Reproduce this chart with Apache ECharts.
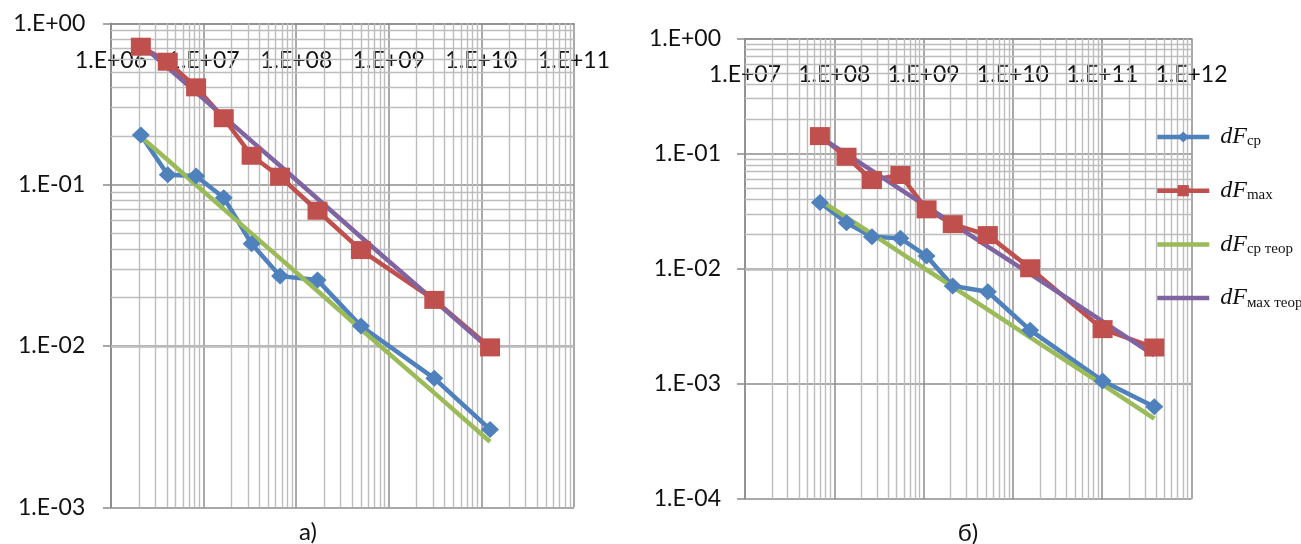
<!DOCTYPE html>
<html><head><meta charset="utf-8">
<script src="https://cdn.jsdelivr.net/npm/echarts@6/dist/echarts.min.js"></script>
<style>html,body{margin:0;padding:0;background:#fff}#c{width:1301px;height:544px}</style>
</head><body><div id="c"></div>
<script>
// ---- data ----
const seriesNames = ['dFср', 'dFmax', 'dFср теор', 'dFмах теор'];
// chart а)
const xA = [2.1e6, 4.1e6, 8.3e6, 1.65e7, 3.3e7, 6.7e7, 1.7e8, 5.0e8, 3.1e9, 1.24e10];
const cpA = [0.203, 0.115, 0.113, 0.083, 0.043, 0.0271, 0.0256, 0.0133, 0.0063, 0.00304];
const maxA = [0.716, 0.578, 0.401, 0.258, 0.151, 0.112, 0.0689, 0.0393, 0.0193, 0.0098];
const cpTeorA = [0.198, 0.142, 0.0995, 0.0705, 0.0497, 0.0349, 0.0219, 0.0127, 0.00512, 0.00255];
const maxTeorA = [0.741, 0.532, 0.373, 0.264, 0.186, 0.131, 0.0817, 0.0474, 0.0191, 0.00953];
// chart б)
const xB = [6.9e7, 1.37e8, 2.64e8, 5.5e8, 1.08e9, 2.12e9, 5.24e9, 1.56e10, 1.01e11, 3.83e11];
const cpB = [0.0377, 0.0251, 0.019, 0.0184, 0.0129, 0.00708, 0.00631, 0.00293, 0.00106, 0.000632];
const maxB = [0.142, 0.094, 0.059, 0.0652, 0.0328, 0.0244, 0.0196, 0.0101, 0.00299, 0.00207];
const cpTeorB = [0.0395, 0.0279, 0.0201, 0.0138, 0.0098, 0.00697, 0.00441, 0.00254, 0.000985, 0.0005];
const maxTeorB = [0.140, 0.0991, 0.0711, 0.0490, 0.0348, 0.0247, 0.0156, 0.00902, 0.00349, 0.00177];
// axis ranges
const xRangeA = [1e6, 1e11], yRangeA = [1e-3, 1];
const xRangeB = [1e7, 1e12], yRangeB = [1e-4, 1];
const captions = ['а)', 'б)'];

// ---- helpers ----
const colors = ['#4F81BD', '#C0504D', '#9BBB59', '#8064A2'];
const labelColor = '#111';
const majorColor = '#8c8c8c';
const minorColor = '#bdbdbd';

function expFmt(v) {
  const e = Math.round(Math.log10(v));
  const a = Math.abs(e);
  return '1.E' + (e < 0 ? '-' : '+') + (a < 10 ? '0' : '') + a;
}
function minorTicks(range) {
  const out = [];
  const e0 = Math.round(Math.log10(range[0])), e1 = Math.round(Math.log10(range[1]));
  for (let e = e0; e < e1; e++) for (let k = 2; k <= 9; k++) out.push(Number((k + 'e' + e)));
  return out;
}
function pairs(xs, ys) { return xs.map((x, i) => [x, ys[i]]); }

function mkSeries(g, xs, cp, mx, cpT, mxT, xr, yr) {
  const base = { type: 'line', xAxisIndex: g, yAxisIndex: g, z: 3, animation: false };
  return [
    Object.assign({}, base, { name: seriesNames[0], data: pairs(xs, cp), symbol: 'diamond', symbolSize: [18, 17],
      itemStyle: { color: colors[0] }, lineStyle: { color: colors[0], width: 4.5 } }),
    Object.assign({}, base, { name: seriesNames[1], data: pairs(xs, mx), symbol: 'rect', symbolSize: [20, 18],
      itemStyle: { color: colors[1] }, lineStyle: { color: colors[1], width: 4.5 } }),
    Object.assign({}, base, { name: seriesNames[2], data: pairs(xs, cpT), symbol: 'none',
      itemStyle: { color: colors[2] }, lineStyle: { color: colors[2], width: 4.5 } }),
    Object.assign({}, base, { name: seriesNames[3], data: pairs(xs, mxT), symbol: 'none',
      itemStyle: { color: colors[3] }, lineStyle: { color: colors[3], width: 4.5 } }),
    { type: 'line', name: 'grid' + g, xAxisIndex: g, yAxisIndex: g, data: [], silent: true, animation: false,
      markLine: { silent: true, z: 1, animation: false, symbol: ['none', 'none'], label: { show: false },
        emphasis: { disabled: true },
        lineStyle: { color: minorColor, type: 'solid', width: 1.4 },
        data: minorTicks(xr).map(v => ({ xAxis: v })).concat(minorTicks(yr).map(v => ({ yAxis: v }))) } }
  ];
}
function mkX(g, r, margin) {
  return { type: 'log', gridIndex: g, min: r[0], max: r[1], logBase: 10, position: 'top',
    axisLine: { show: true, lineStyle: { color: majorColor, width: 1.5 } }, axisTick: { show: false },
    axisLabel: { inside: true, margin: margin, verticalAlign: 'middle', formatter: expFmt, showMinLabel: true, showMaxLabel: true,
      fontFamily: 'Lato', fontSize: 23, color: labelColor },
    splitLine: { show: true, lineStyle: { color: majorColor, width: 1.5 } } };
}
function mkY(g, r, margin) {
  return { type: 'log', gridIndex: g, min: r[0], max: r[1], logBase: 10, position: 'left',
    axisLine: { show: true, lineStyle: { color: majorColor, width: 1.5 } },
    axisTick: { show: true, length: 8, lineStyle: { color: majorColor, width: 1.5 } },
    axisLabel: { margin: margin, formatter: expFmt, showMinLabel: true, showMaxLabel: true,
      fontFamily: 'Lato', fontSize: 23, color: labelColor },
    splitLine: { show: true, lineStyle: { color: majorColor, width: 1.5 } } };
}

const option = {
  animation: false,
  backgroundColor: '#fff',
  grid: [
    { left: 111, top: 23.3, width: 463, height: 484 },
    { left: 745, top: 38.5, width: 446.5, height: 460.5 }
  ],
  xAxis: [mkX(0, xRangeA, 37.7), mkX(1, xRangeB, 36.5)],
  yAxis: [mkY(0, yRangeA, 25.7), mkY(1, yRangeB, 24)],
  legend: {
    data: [
      { name: seriesNames[0] },
      { name: seriesNames[1] },
      { name: seriesNames[2], itemStyle: { opacity: 0 } },
      { name: seriesNames[3], itemStyle: { opacity: 0 } }
    ],
    orient: 'vertical', left: 1155, top: 125, padding: 0,
    itemWidth: 52, itemHeight: 14, itemGap: 29.7, selectedMode: false,
    lineStyle: { width: 4.5 },
    formatter: n => '{i|dF}{s|' + n.slice(2) + '}',
    textStyle: { color: '#111', rich: {
      i: { fontFamily: 'Liberation Serif', fontStyle: 'italic', fontSize: 24, lineHeight: 24, padding: [0, 0, 0, 6], color: '#111' },
      s: { fontFamily: 'Liberation Serif', fontSize: 15, lineHeight: 24, verticalAlign: 'bottom', color: '#111' }
    } }
  },
  graphic: [
    { type: 'text', x: 308, y: 532, style: { text: captions[0], align: 'center', verticalAlign: 'middle', font: '24px Lato', fill: labelColor } },
    { type: 'text', x: 968, y: 533, style: { text: captions[1], align: 'center', verticalAlign: 'middle', font: '24px Lato', fill: labelColor } }
  ],
  series: [].concat(
    mkSeries(0, xA, cpA, maxA, cpTeorA, maxTeorA, xRangeA, yRangeA),
    mkSeries(1, xB, cpB, maxB, cpTeorB, maxTeorB, xRangeB, yRangeB)
  )
};
const chart = echarts.init(document.getElementById('c'), null, { renderer: 'canvas' });
chart.setOption(option);
</script></body></html>
